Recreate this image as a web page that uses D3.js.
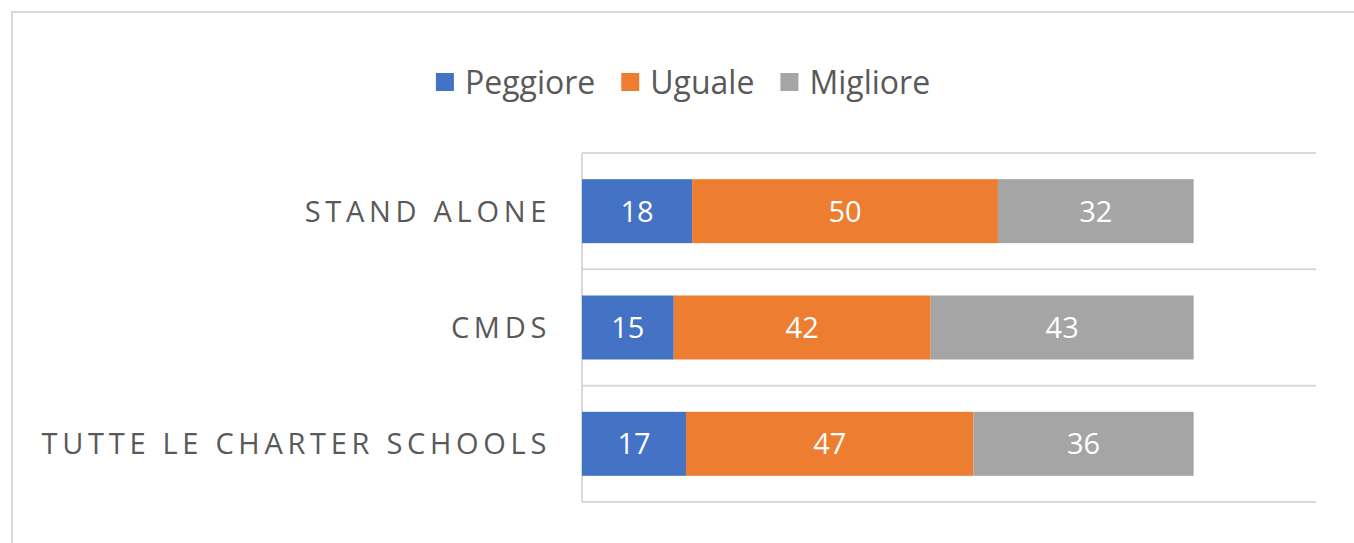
<!DOCTYPE html>
<html><head><meta charset="utf-8">
<script src="https://cdn.jsdelivr.net/npm/d3@7"></script>
<style>
html,body{margin:0;padding:0;background:#fff;}
svg{display:block;}
</style></head>
<body>
<svg id="chart" width="1354" height="543"></svg>
<script>
const categories = ["STAND ALONE", "CMDS", "TUTTE LE CHARTER SCHOOLS"];
const seriesNames = ["Peggiore", "Uguale", "Migliore"];
const peggiore = [18, 15, 17];
const uguale = [50, 42, 47];
const migliore = [32, 43, 36];
const colors = ["#4472C4", "#ED7D31", "#A5A5A5"];

const svg = d3.select("#chart");

// outer frame
svg.append("rect").attr("x", 12).attr("y", 12).attr("width", 1400).attr("height", 600)
  .attr("fill", "#fff").attr("stroke", "#D9D9D9").attr("stroke-width", 2);

const plot = {left: 582, right: 1316, top: 153, bottom: 502};
const x = d3.scaleLinear().domain([0, 120]).range([plot.left, plot.right]);
const y = d3.scaleBand().domain(categories).range([plot.top, plot.bottom])
  .paddingInner(0.45).paddingOuter(0.225);

const rows = categories.map((c, i) => ({cat: c, Peggiore: peggiore[i], Uguale: uguale[i], Migliore: migliore[i]}));
const stack = d3.stack().keys(seriesNames)(rows);

// category separators
const step = y.step();
const seps = d3.range(categories.length + 1).map(i => plot.top + i * step);
svg.append("g").selectAll("line").data(seps).join("line")
  .attr("x1", plot.left).attr("x2", plot.right)
  .attr("y1", d => d).attr("y2", d => d)
  .attr("stroke", "#D9D9D9").attr("stroke-width", 2);
svg.append("line").attr("x1", plot.left).attr("x2", plot.left)
  .attr("y1", plot.top).attr("y2", plot.bottom)
  .attr("stroke", "#D9D9D9").attr("stroke-width", 2);

// bars
const g = svg.append("g");
stack.forEach((s, si) => {
  g.selectAll(null).data(s).join("rect")
    .attr("x", d => x(d[0]))
    .attr("width", d => x(d[1]) - x(d[0]))
    .attr("y", d => y(d.data.cat))
    .attr("height", y.bandwidth())
    .attr("fill", colors[si]);
  g.selectAll(null).data(s).join("text")
    .attr("x", d => (x(d[0]) + x(d[1])) / 2)
    .attr("y", d => y(d.data.cat) + y.bandwidth() / 2)
    .attr("dy", "0.36em")
    .attr("text-anchor", "middle")
    .attr("fill", "#fff")
    .style("font-family", "'Open Sans', sans-serif")
    .style("font-size", "29px")
    .text(d => d[1] - d[0]);
});

// category labels
svg.append("g").selectAll("text").data(categories).join("text")
  .attr("x", plot.left - 31)
  .attr("y", d => y(d) + y.bandwidth() / 2)
  .attr("dy", "0.36em")
  .attr("text-anchor", "end")
  .attr("fill", "#595959")
  .style("font-family", "'Open Sans', sans-serif")
  .style("font-size", "29px")
  .style("letter-spacing", "4.7px")
  .text(d => d);

// legend
const leg = svg.append("g");
let cx = 0;
seriesNames.forEach((n, i) => {
  const it = leg.append("g");
  it.append("rect").attr("x", 0).attr("y", -9).attr("width", 18).attr("height", 18).attr("fill", colors[i]);
  const t = it.append("text").attr("x", 29).attr("dy", "0.36em")
    .attr("fill", "#595959")
    .style("font-family", "'Open Sans', sans-serif")
    .style("font-size", "32px").text(n);
  const w = 29 + t.node().getComputedTextLength();
  it.attr("transform", `translate(${cx},0)`);
  cx += w + 26;
});
const totalW = cx - 26;
leg.attr("transform", `translate(${683 - totalW / 2},82)`);
</script>
</body></html>
